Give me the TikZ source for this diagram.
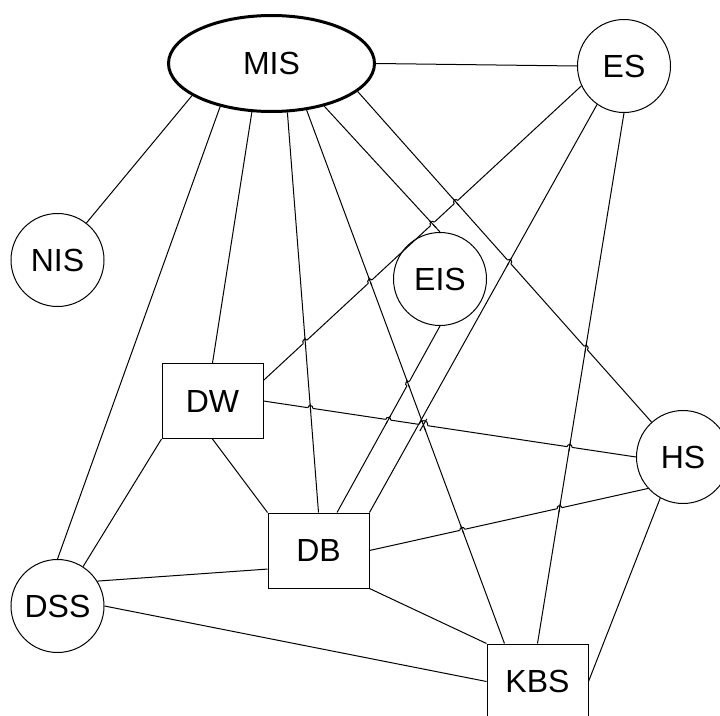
\documentclass[tikz,border=0pt]{standalone}
\usepackage{fontspec}
\setmainfont{Liberation Sans}
\usetikzlibrary{shapes.geometric,calc}

% A connector (#1 -> #2) jumps over another one (#3 -- #4) with a small arc of radius #5
\newcommand\linehop[5]{%
  \coordinate (hx) at (intersection of #1--#2 and #3--#4);
  \coordinate (hp) at ($(hx)!#5!(#1)$);
  \coordinate (hq) at ($(hx)!#5!(#2)$);
  \draw[white, line width=2.2pt] (hp) -- (hq);
  \draw[link] ($(hx)!#5+2pt!(#3)$) -- ($(hx)!#5+2pt!(#4)$);
  \draw[link] (hp) .. controls ($(hp)!1.333*#5!90:(hq)$) and ($(hq)!1.333*#5!-90:(hp)$) .. (hq);
}

\begin{document}
\begin{tikzpicture}[x=1pt, y=-1pt,
  every node/.style={font=\fontsize{32}{38}\selectfont, inner sep=0pt},
  sys/.style={circle, draw, line width=1pt, minimum size=93pt},
  store/.style={rectangle, draw, line width=1pt, minimum width=101pt, minimum height=75pt},
  hub/.style={ellipse, draw, line width=3pt, minimum width=206pt, minimum height=96pt},
  link/.style={line width=1pt}]

\useasboundingbox (0,0) rectangle (720,715);

% systems
\node[hub]   (MIS) at (271.5,63.5) {MIS};
\node[sys]   (ES)  at (624,66)     {ES};
\node[sys]   (NIS) at (57.5,260)   {NIS};
\node[sys]   (EIS) at (440,279)    {EIS};
\node[sys]   (HS)  at (683,457)    {HS};
\node[sys]   (DSS) at (57.5,606)   {DSS};
\node[store] (DW)  at (212.5,401)  {DW};
\node[store] (DB)  at (318.5,550.5) {DB};
\node[store] (KBS) at (537.5,681.5) {KBS};

% connectors
\draw[link] (MIS.east) -- (ES.west);
\draw[link] (MIS.202) -- (NIS.52);
\draw[link] (MIS.220) -- (DSS.north);
\draw[link] (MIS.248) -- (DW.north);
\draw[link] (MIS.288) -- (DB.north);
\draw[link] (MIS.307) -- (KBS.131);
\draw[link] (MIS.321) -- (EIS.north);
\draw[link] (MIS.342) -- (HS.132);
\draw[link] (ES.205) -- (DW.22);
\draw[link] (ES.235) -- (DB.north east);
\draw[link] (ES.south) -- (KBS.north);
\draw[link] (EIS.south) -- (DB.64);
\draw[link] (DW.east) -- (HS.west);
\draw[link] (DW.south) -- (DB.north west);
\draw[link] (DW.south west) -- (DSS.57);
\draw[link] (DB.east) -- (HS.222);
\draw[link] (DB.200) -- (DSS.32);
\draw[link] (DB.south east) -- (KBS.north west);
\draw[link] (DSS.east) -- (KBS.west);
\draw[link] (HS.241) -- (KBS.east);

% line jumps at crossings
\linehop{DW.22}{ES.205}{MIS.342}{HS.132}{2.5pt}
\linehop{DW.22}{ES.205}{MIS.321}{EIS.north}{2.5pt}
\linehop{DW.22}{ES.205}{MIS.307}{KBS.131}{2.5pt}
\linehop{DW.22}{ES.205}{MIS.288}{DB.north}{2.5pt}
\linehop{MIS.342}{HS.132}{DB.north east}{ES.235}{2.5pt}
\linehop{MIS.342}{HS.132}{KBS.north}{ES.south}{2.5pt}
\linehop{DB.64}{EIS.south}{MIS.307}{KBS.131}{2.5pt}
\linehop{DW.east}{HS.west}{MIS.307}{KBS.131}{4.5pt}
\draw[link] ($(hx)!7pt!(DB.north east)$) -- ($(hx)!7pt!(ES.235)$);
\linehop{DW.east}{HS.west}{MIS.288}{DB.north}{2.5pt}
\linehop{DW.east}{HS.west}{DB.64}{EIS.south}{2.5pt}
\linehop{DW.east}{HS.west}{KBS.north}{ES.south}{2.5pt}
\linehop{DB.east}{HS.222}{MIS.307}{KBS.131}{2.5pt}
\linehop{DB.east}{HS.222}{KBS.north}{ES.south}{2.5pt}

\end{tikzpicture}
\end{document}
